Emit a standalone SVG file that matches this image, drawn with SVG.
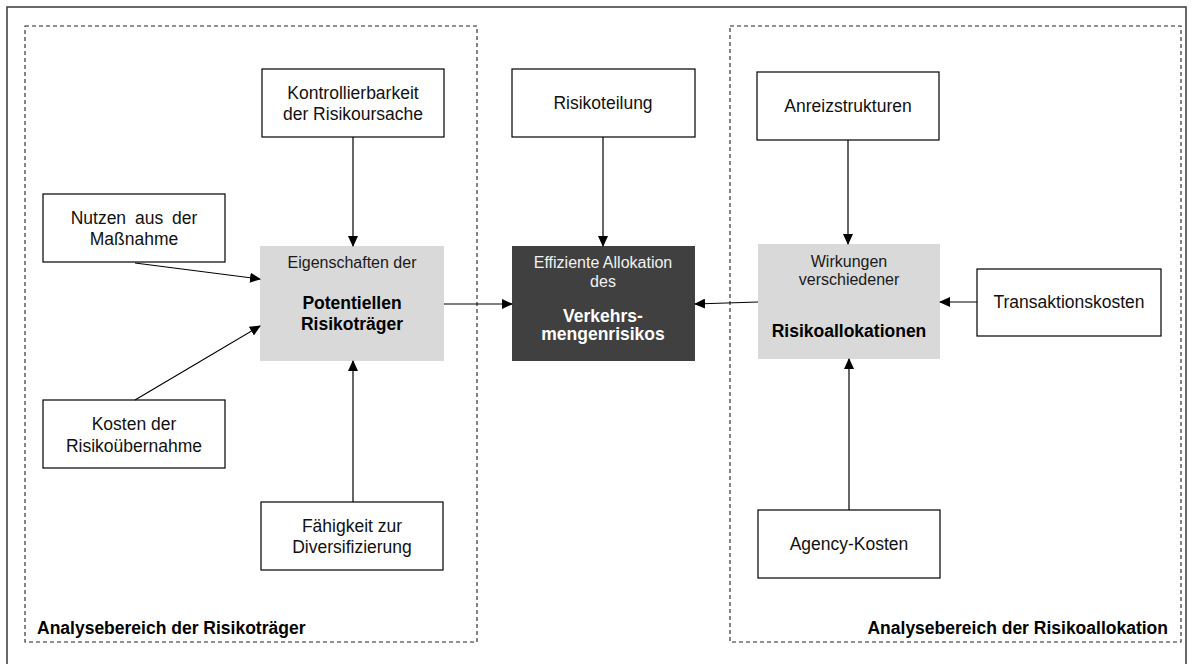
<svg xmlns="http://www.w3.org/2000/svg" width="1193" height="664" viewBox="0 0 1193 664">
<defs>
<marker id="ah" markerWidth="11" markerHeight="10" refX="10" refY="5" orient="auto" markerUnits="userSpaceOnUse">
<path d="M0,0 L11,5 L0,10 Z" fill="#000"/>
</marker>
<style>
text{font-family:"Liberation Sans",Arial,sans-serif;text-anchor:middle;fill:#000}
.t{font-size:17.5px;fill:#111}
.g{font-size:16px;fill:#1a1a1a}
.b{font-size:17.5px;font-weight:bold}
.w{fill:#f2f2f2}
.bw{font-size:17.5px;font-weight:bold;fill:#fff}
.box{fill:#fff;stroke:#000;stroke-width:1.2}
.gray{fill:#d9d9d9}
.dark{fill:#404040}
.area{fill:none;stroke:#222;stroke-width:1.1;stroke-dasharray:4,3}
.conn line{stroke:#000;stroke-width:1.2;marker-end:url(#ah)}
</style>
</defs>
<rect x="0" y="0" width="1193" height="664" fill="#fff"/>
<rect x="7" y="7" width="1179" height="670" fill="none" stroke="#444" stroke-width="1.6"/>

<g id="area-risikotraeger">
<rect class="area" x="25" y="26" width="452" height="616"/>
<text class="b" x="37" y="634" style="text-anchor:start">Analysebereich der Risikoträger</text>
</g>
<g id="area-risikoallokation">
<rect class="area" x="730" y="26" width="451" height="616"/>
<text class="b" x="1168" y="634" style="text-anchor:end">Analysebereich der Risikoallokation</text>
</g>

<g id="kontrollierbarkeit">
<rect class="box" x="262" y="69" width="182" height="68"/>
<text class="t" x="353" y="99">Kontrollierbarkeit</text>
<text class="t" x="353" y="120">der Risikoursache</text>
</g>
<g id="nutzen">
<rect class="box" x="43" y="194" width="182" height="68"/>
<text class="t" x="134" y="224" style="word-spacing:4px">Nutzen aus der</text>
<text class="t" x="134" y="245">Maßnahme</text>
</g>
<g id="kosten">
<rect class="box" x="43" y="400" width="182" height="68"/>
<text class="t" x="134" y="430">Kosten der</text>
<text class="t" x="134" y="452">Risikoübernahme</text>
</g>
<g id="faehigkeit">
<rect class="box" x="261" y="502" width="182" height="68"/>
<text class="t" x="352" y="532">Fähigkeit zur</text>
<text class="t" x="352" y="553">Diversifizierung</text>
</g>
<g id="eigenschaften">
<rect class="gray" x="260" y="246" width="184" height="115"/>
<text class="g" x="352" y="268">Eigenschaften der</text>
<text class="b" x="352" y="309">Potentiellen</text>
<text class="b" x="352" y="330">Risikoträger</text>
</g>
<g id="risikoteilung">
<rect class="box" x="512" y="69" width="183" height="68"/>
<text class="t" x="603" y="109">Risikoteilung</text>
</g>
<g id="effiziente-allokation">
<rect class="dark" x="512" y="246" width="183" height="115"/>
<text class="g w" x="603" y="268">Effiziente Allokation</text>
<text class="g w" x="603" y="287">des</text>
<text class="bw" x="603" y="322">Verkehrs-</text>
<text class="bw" x="603" y="340">mengenrisikos</text>
</g>
<g id="anreizstrukturen">
<rect class="box" x="757" y="72" width="182" height="68"/>
<text class="t" x="848" y="112">Anreizstrukturen</text>
</g>
<g id="wirkungen">
<rect class="gray" x="758" y="244" width="182" height="115"/>
<text class="g" x="849" y="267">Wirkungen</text>
<text class="g" x="849" y="285">verschiedener</text>
<text class="b" x="849" y="337">Risikoallokationen</text>
</g>
<g id="transaktionskosten">
<rect class="box" x="977" y="269" width="184" height="67"/>
<text class="t" x="1069" y="308">Transaktionskosten</text>
</g>
<g id="agency-kosten">
<rect class="box" x="758" y="510" width="182" height="68"/>
<text class="t" x="849" y="550">Agency-Kosten</text>
</g>

<g id="connectors" class="conn">
<line x1="353" y1="137" x2="353" y2="246"/>
<line x1="135" y1="263" x2="260" y2="279"/>
<line x1="135" y1="400" x2="260" y2="326"/>
<line x1="353" y1="502" x2="353" y2="361"/>
<line x1="444" y1="304" x2="512" y2="304"/>
<line x1="603" y1="137" x2="603" y2="246"/>
<line x1="758" y1="302" x2="695" y2="304"/>
<line x1="848" y1="140" x2="848" y2="244"/>
<line x1="977" y1="302" x2="940" y2="302"/>
<line x1="849" y1="510" x2="849" y2="359"/>
</g>
</svg>
